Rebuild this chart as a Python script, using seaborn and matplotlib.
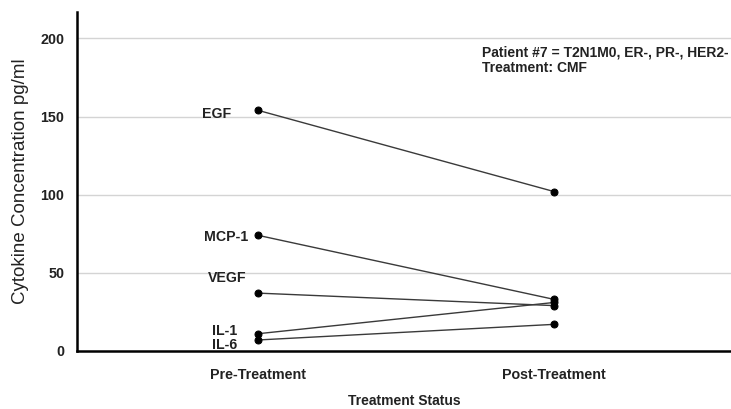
import matplotlib
matplotlib.use("Agg")
import matplotlib.pyplot as plt
import pandas as pd
import seaborn as sns

# Cytokine levels for patient #7 before and after treatment
statuses = ["Pre-Treatment", "Post-Treatment"]
cytokines = ["EGF", "MCP-1", "VEGF", "IL-1", "IL-6"]
pre_values = [154, 74, 37, 11, 7]
post_values = [102, 33, 29, 31, 17]
y_ticks = [0, 50, 100, 150, 200]

# label offsets (points) relative to the pre-treatment marker
label_offsets = {
    "EGF": (-19, -2.5),
    "MCP-1": (-7, -1.5),
    "VEGF": (-8, 11),
    "IL-1": (-15, 2),
    "IL-6": (-15, -3.5),
}

rows = []
for name, a, b in zip(cytokines, pre_values, post_values):
    rows.append({"cytokine": name, "status": statuses[0], "value": a})
    rows.append({"cytokine": name, "status": statuses[1], "value": b})
df = pd.DataFrame(rows)

sns.set_theme(style="white")
plt.rcParams["font.family"] = ["Liberation Sans", "DejaVu Sans"]

fig = plt.figure(figsize=(7.31, 4.09), dpi=100)
ax = fig.add_axes([0.105, 0.142, 0.895, 0.829])

sns.lineplot(
    data=df, x="status", y="value", units="cytokine", estimator=None,
    color="#3a3a3a", linewidth=1.0, marker="o", markersize=5,
    markerfacecolor="black", markeredgecolor="black", sort=False, ax=ax,
    zorder=3,
)

ax.set_xlim(-0.612, 1.598)
ax.set_ylim(0, 217)
ax.set_yticks(y_ticks)
ax.set_xticks([0, 1])
ax.set_xticklabels(statuses)

for t in y_ticks[1:]:
    ax.axhline(t, color="#d4d4d4", linewidth=1.0, zorder=0)

for s in ["top", "right"]:
    ax.spines[s].set_visible(False)
for s in ["left", "bottom"]:
    ax.spines[s].set_color("black")
    ax.spines[s].set_linewidth(1.8)

ax.tick_params(axis="y", length=6, width=0.8, color="#aaaaaa", pad=3,
               labelsize=10.3, labelcolor="#222222")
ax.tick_params(axis="x", length=5, width=0.8, color="#aaaaaa", pad=7,
               labelsize=10.3, labelcolor="#222222")
for lab in ax.get_xticklabels() + ax.get_yticklabels():
    lab.set_fontweight("bold")

ax.set_ylabel("Cytokine Concentration pg/ml", fontsize=13.5, color="#222222",
              labelpad=8)
ax.set_xlabel("Treatment Status", fontsize=10, fontweight="bold",
              color="#222222", labelpad=9)

for name, a in zip(cytokines, pre_values):
    dx, dy = label_offsets[name]
    ax.annotate(name, xy=(0, a), xytext=(dx, dy), textcoords="offset points",
                ha="right", va="center", fontsize=10.2, fontweight="bold",
                color="#222222")

ax.text(0.619, 0.857, "Patient #7 = T2N1M0, ER-, PR-, HER2-\nTreatment: CMF",
        transform=ax.transAxes, ha="left", va="center", fontsize=10,
        fontweight="bold", color="#222222", linespacing=1.15, clip_on=False)

fig.savefig("out.png", dpi=100)
